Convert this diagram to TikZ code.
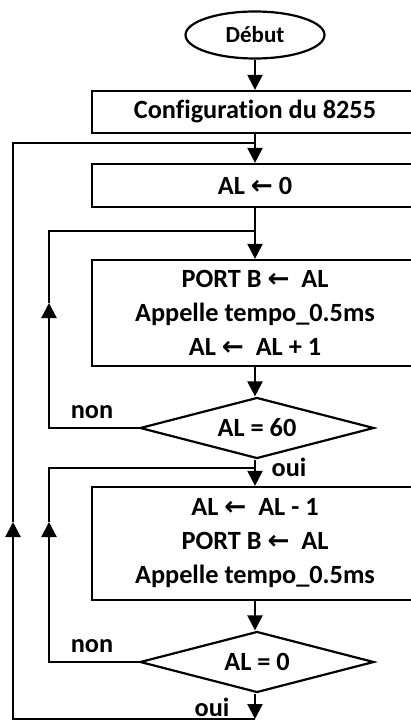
\documentclass[tikz,border=0pt]{standalone}
\usepackage{fontspec}
\setmainfont{Carlito}[Ligatures=NoCommon]
\newfontfamily\arrowfont{DejaVu Sans}
\usetikzlibrary{shapes.geometric,arrows.meta}
\newcommand{\myarr}{{\arrowfont\bfseries ←}}
\begin{document}
\begin{tikzpicture}[x=1pt,y=-1pt, line width=2.2pt,
  arr/.style={-{Triangle[width=15pt,length=15pt]}},
  txt/.style={font=\bfseries\fontsize{26.3}{34}\selectfont},
  box/.style={draw, rectangle, minimum width=326pt, inner sep=0pt, txt, align=center},
  dec/.style={draw, diamond, minimum width=234pt, minimum height=61pt, inner sep=0pt, aspect=3.8, txt},
  lab/.style={txt, anchor=base, inner sep=0pt}]
\useasboundingbox (0,0) rectangle (411,722);
\clip (0,0) rectangle (411,722);
\node[draw, ellipse, minimum width=139pt, minimum height=47pt, inner sep=0pt, font=\bfseries\fontsize{23}{28}\selectfont] (debut) at (255,35) {Début};
\node[box, minimum height=42pt] (config) at (255,112) {Configuration du 8255};
\node[box, minimum height=43pt] (al0) at (255,185.5) {AL \myarr{} 0};
\node[box, minimum height=106pt] (b2) at (255,313) {PORT B \myarr{}~ AL\\Appelle tempo\_0.5ms\\AL \myarr{}~ AL + 1};
\node[dec] (d1) at (257,428) {AL = 60};
\node[box, minimum height=113pt] (b3) at (255,543.5) {AL \myarr{}~ AL - 1\\PORT B \myarr{}~ AL\\Appelle tempo\_0.5ms};
\node[dec] (d2) at (257,662) {AL = 0};
\coordinate (j1) at (255,143);
\coordinate (j2) at (255,231);
\coordinate (j3) at (255,468);
\coordinate (bt) at (255,719);
\coordinate (l1) at (49,428);
\coordinate (a1) at (49,303);
\coordinate (l1u) at (49,231);
\coordinate (l2) at (49,662);
\coordinate (a2) at (49,522);
\coordinate (l2u) at (49,468);
\coordinate (o1) at (13,719);
\coordinate (a3) at (13,522);
\coordinate (o2) at (13,143);
\draw[arr] (debut) -- (config);
\draw[arr] (config) -- (al0);
\draw[arr] (al0) -- (b2);
\draw[arr] (b2) -- (b2 |- d1.north);
\draw[arr] (b2 |- d1.south) -- (b3);
\draw[arr] (b3) -- (b3 |- d2.north);
\draw[arr] (b3 |- d2.south) -- (bt);
\draw[arr] (d1.west) -- (l1) -- (a1);
\draw (a1) -- (l1u) -- (j2);
\draw[arr] (d2.west) -- (l2) -- (a2);
\draw (a2) -- (l2u) -- (j3);
\draw[arr] (bt) -- (o1) -- (a3);
\draw (a3) -- (o2) -- (j1);
\node[lab] (non1) at (92,418) {non};
\node[lab] (oui1) at (289,476) {oui};
\node[lab] (non2) at (92,652) {non};
\node[lab] (oui2) at (212,716) {oui};
\end{tikzpicture}
\end{document}
